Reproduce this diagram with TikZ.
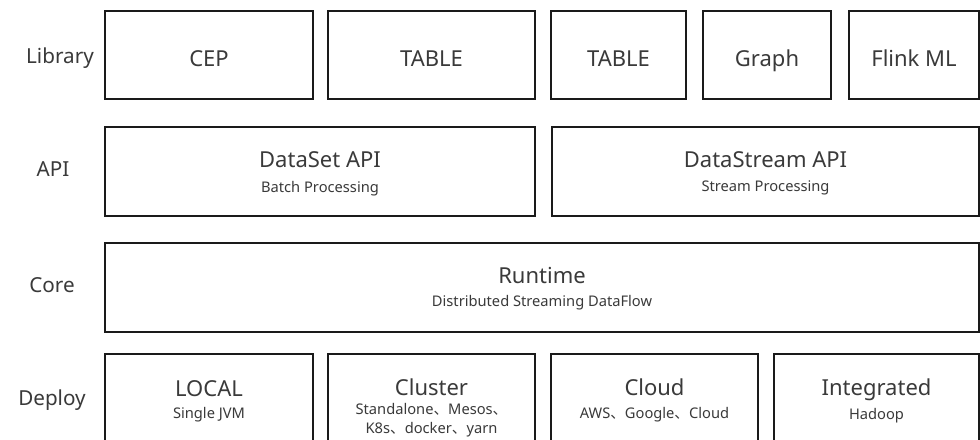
\documentclass[tikz,border=0pt]{standalone}
\usepackage{fontspec}
\setmainfont{Noto Sans}
\newfontfamily\cjk{Noto Sans CJK SC}
\usetikzlibrary{fit}
\definecolor{edge}{RGB}{26,26,26}
\definecolor{ink}{RGB}{58,58,58}
\tikzset{
  box/.style={draw=edge, line width=2pt, inner sep=0pt, fill=none},
  rowlabel/.style={anchor=base, text=ink, font=\fontsize{15.5}{18}\selectfont, inner sep=0pt},
  title/.style={anchor=base, text=ink, font=\fontsize{16.5}{19}\selectfont, inner sep=0pt},
  sub/.style={anchor=base, text=ink, font=\fontsize{11}{13}\selectfont, inner sep=0pt}
}
\begin{document}
\begin{tikzpicture}[x=0.75pt, y=-0.75pt]
\clip (0,0) rectangle (980,439);
\fill[white] (0,0) rectangle (980,439);
% row labels
\node[rowlabel] (lLib) at (60,63) {Library};
\node[rowlabel] (lApi) at (53,176) {API};
\node[rowlabel] (lCore) at (52,292) {Core};
\node[rowlabel] (lDep) at (52,405) {Deploy};
% Library row
\node[box, fit={(105,11) (313,99)}] (cep) {};
\node[box, fit={(328,11) (535,99)}] (table1) {};
\node[box, fit={(551,11) (686,99)}] (table2) {};
\node[box, fit={(703,11) (831,99)}] (graph) {};
\node[box, fit={(849,11) (979,99)}] (flink) {};
\node[title] (tCep) at (209,66) {CEP};
\node[title] (tTab1) at (431.5,66) {TABLE};
\node[title] (tTab2) at (618.5,66) {TABLE};
\node[title] (tGraph) at (767,66) {Graph};
\node[title] (tFlink) at (914,66) {Flink ML};
% API row
\node[box, fit={(105,127) (535,216)}] (dataset) {};
\node[box, fit={(552,127) (979,216)}] (datastream) {};
\node[title] (tDs) at (320,167) {DataSet API};
\node[sub] (sDs) at (320,192) {Batch Processing};
\node[title] (tDst) at (765.5,167) {DataStream API};
\node[sub] (sDst) at (765.5,191) {Stream Processing};
% Core row
\node[box, fit={(105,243) (979,332)}] (runtime) {};
\node[title] (tRun) at (542,283) {Runtime};
\node[sub] (sRun) at (542,306) {Distributed Streaming DataFlow};
% Deploy row
\node[box, fit={(105,354) (313,470)}] (local) {};
\node[box, fit={(328,354) (535,470)}] (cluster) {};
\node[box, fit={(551,354) (758,470)}] (cloud) {};
\node[box, fit={(774,354) (979,470)}] (integ) {};
\node[title] (tLocal) at (209,396) {LOCAL};
\node[sub] (sLocal) at (209,418) {Single JVM};
\node[title] (tCluster) at (431.5,395) {Cluster};
\node[sub] (sCluster1) at (431.5,414) {Standalone{\cjk 、}Mesos{\cjk 、}};
\node[sub] (sCluster2) at (431.5,433) {K8s{\cjk 、}docker{\cjk 、}yarn};
\node[title] (tCloud) at (654.5,395) {Cloud};
\node[sub] (sCloud) at (654.5,418) {AWS{\cjk 、}Google{\cjk 、}Cloud};
\node[title] (tInteg) at (876.5,395) {Integrated};
\node[sub] (sInteg) at (876.5,419) {Hadoop};
\end{tikzpicture}
\end{document}
